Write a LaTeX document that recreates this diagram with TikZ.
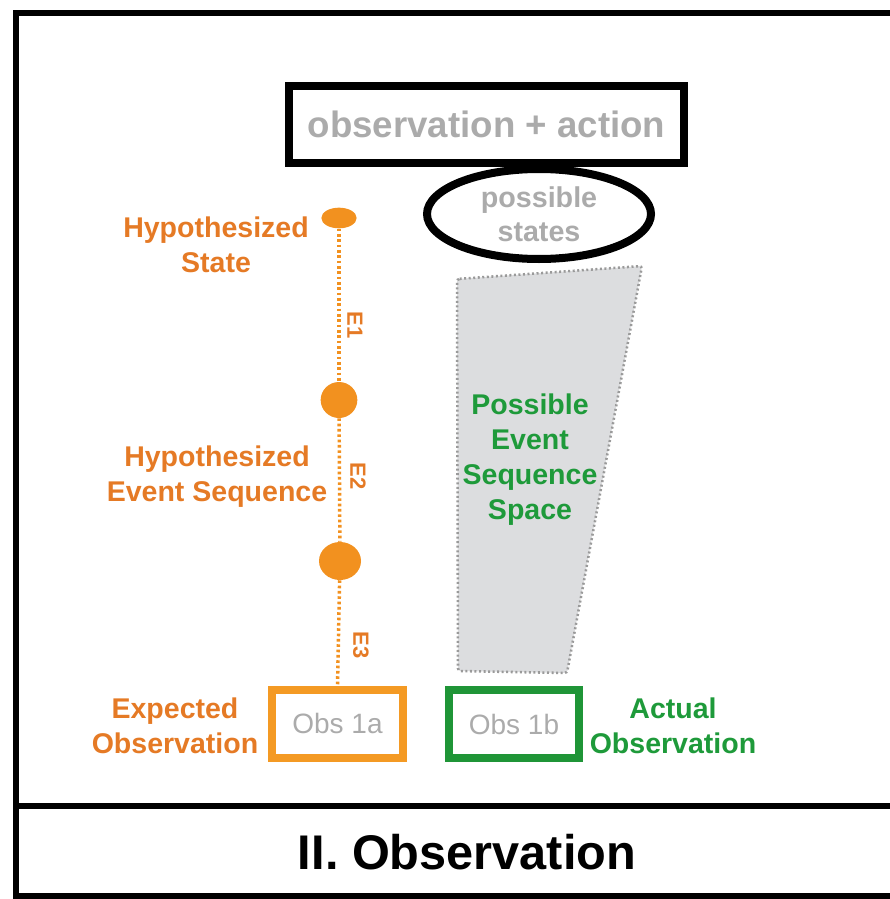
\documentclass[tikz,border=0pt]{standalone}
\usepackage{fontspec}
\setmainfont{Liberation Sans}
\usetikzlibrary{shapes.geometric}
\definecolor{orDot}{HTML}{F2911F}
\definecolor{orText}{HTML}{E57A25}
\definecolor{orBox}{HTML}{F49A24}
\definecolor{grText}{HTML}{1E9A3A}
\definecolor{grBox}{HTML}{1F9537}
\definecolor{lightTxt}{HTML}{ABABAB}
\definecolor{spaceFill}{HTML}{DCDDDF}
\definecolor{spaceLine}{HTML}{9A9A9A}
\tikzset{
  frameline/.style={line width=5pt,black},
  lbl/.style={font=\bfseries\fontsize{21.4}{26.3}\selectfont,align=center,inner sep=0pt},
  orlbl/.style={lbl,text=orText},
  grlbl/.style={lbl,text=grText},
  dotnode/.style={ellipse,fill=orDot,inner sep=0pt},
  evline/.style={orDot,line width=2.6pt,dash pattern=on 2pt off 2pt},
  evlbl/.style={font=\bfseries\fontsize{16.5}{18}\selectfont,text=orText,rotate=-90,inner sep=0pt},
  obsbox/.style={draw,line width=6pt,minimum width=98pt,minimum height=51pt,inner sep=0pt,
    font=\fontsize{21}{25}\selectfont,text=lightTxt}
}
\begin{document}
\begin{tikzpicture}[x=0.75pt,y=-0.75pt]
\useasboundingbox (0,0) rectangle (889,899);
% frame
\draw[frameline,line cap=rect] (16,905) -- (16,13) -- (900,13);
\draw[line width=4.2pt] (16,806) -- (900,806);
\draw[frameline] (16,896) -- (900,896);
\node[font=\bfseries\fontsize{36.5}{42}\selectfont,inner sep=0pt] (title) at (467,852) {II. Observation};

% top box and ellipse
\node[draw,line width=6pt,minimum width=296pt,minimum height=58pt,inner sep=0pt,
  font=\bfseries\fontsize{27.5}{32}\selectfont,text=lightTxt] (oa) at (486.5,124.5) {observation + action};
\node[ellipse,draw,line width=6pt,minimum width=168pt,minimum height=67.5pt,inner sep=0pt,fill=white,
  font=\bfseries\fontsize{21.5}{25.5}\selectfont,text=lightTxt,align=center] (ps) at (539,214) {possible\\states};

% possible event sequence space
\filldraw[fill=spaceFill,draw=spaceLine,line width=1.9pt,dash pattern=on 1.5pt off 1.9pt,rounded corners=2pt]
  (457,279) -- (642,266) -- (567,673) -- (458,671) -- cycle;
\node[grlbl] (pess) at (530,460) {Possible\\Event\\Sequence\\Space};

% hypothesized chain
\node[dotnode,minimum width=26.5pt,minimum height=15.5pt] (d1) at (339,218) {};
\node[dotnode,minimum width=27.5pt,minimum height=27pt] (d2) at (339,400) {};
\node[dotnode,minimum width=31.5pt,minimum height=28.5pt] (d3) at (340,561) {};
\node[obsbox,draw=orBox] (o1a) at (337.5,723.5) {Obs 1a};
\node[obsbox,draw=grBox] (o1b) at (514,724) {Obs 1b};

\draw[evline] (d1) -- (d2);
\draw[evline] (d2) -- (d3);
\draw[evline] (d3) -- (o1a.north);

\node[evlbl] (e1) at (355,325) {E1};
\node[evlbl] (e2) at (358,476) {E2};
\node[evlbl] (e3) at (361,645) {E3};

% labels
\node[orlbl] (hs) at (216,245) {Hypothesized\\State};
\node[orlbl] (hes) at (217,477) {Hypothesized\\Event Sequence};
\node[orlbl] (eo) at (175,726) {Expected\\Observation};
\node[grlbl] (ao) at (673,726) {Actual\\Observation};
\end{tikzpicture}
\end{document}
